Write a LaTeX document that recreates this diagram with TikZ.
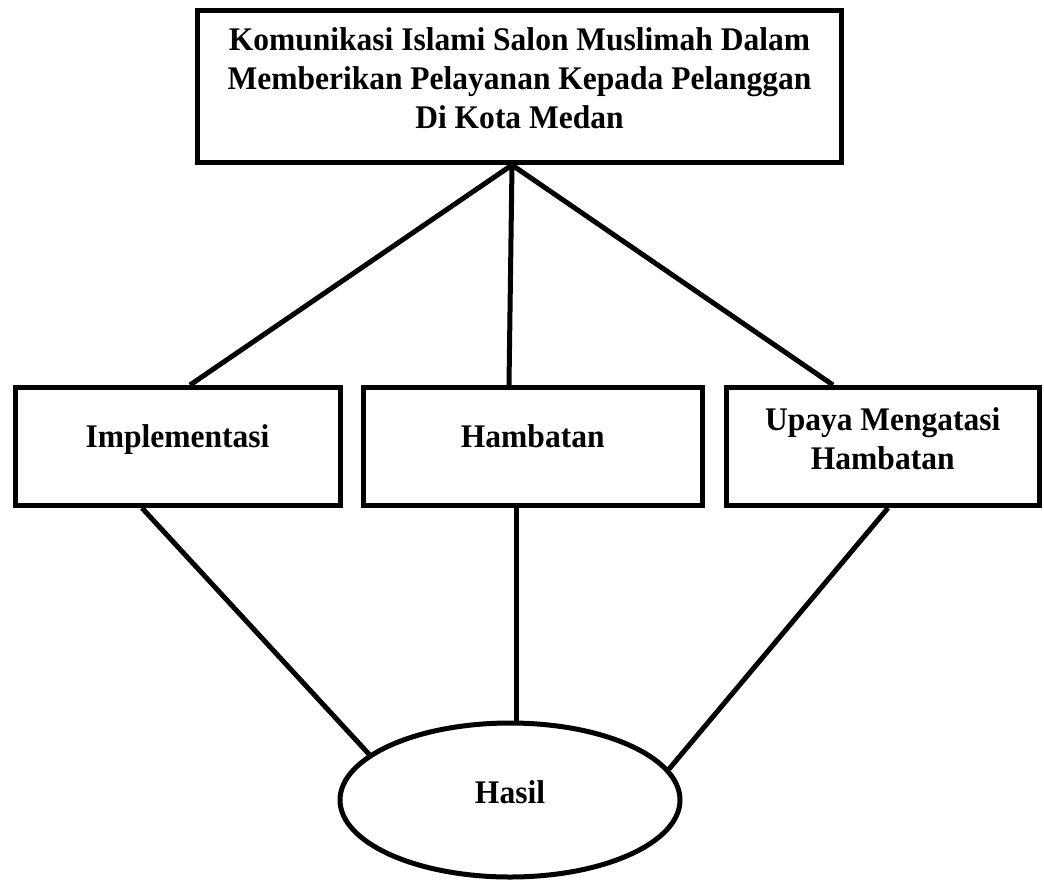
\documentclass[tikz,border=0pt]{standalone}
\usepackage{fontspec}
\setmainfont[FakeStretch=0.955]{Liberation Serif}
\usetikzlibrary{shapes.geometric}
\begin{document}
\begin{tikzpicture}[
   x=1pt, y=-1pt,
   box/.style={rectangle, draw, line width=5pt, align=center, inner sep=0pt,
               font=\fontsize{33}{39}\selectfont\bfseries},
   single/.style={text height=23pt, text depth=22pt},
   oval/.style={ellipse, draw, line width=5pt, inner sep=0pt,
                text height=23pt, text depth=17pt,
                font=\fontsize{33}{39}\selectfont\bfseries},
   link/.style={-, line width=5pt}
]
\useasboundingbox (0,0) rectangle (1044,879);

% Main topic
\node[box, minimum width=644, minimum height=152, text depth=16pt] (topic) at (519.5,86.5)
   {Komunikasi Islami Salon Muslimah Dalam\\Memberikan Pelayanan Kepada Pelanggan\\Di Kota Medan};

% Aspects
\node[box, single, minimum width=325, minimum height=118] (impl) at (177.5,446.5) {Implementasi};
\node[box, single, minimum width=339.5, minimum height=118] (hamb) at (532.75,446.5) {Hambatan};
\node[box, minimum width=312.5, minimum height=118, text depth=16pt] (upaya) at (882.75,446.5)
   {Upaya Mengatasi\\Hambatan};

% Result
\node[oval, minimum width=340, minimum height=154] (hasil) at (510,800) {Hasil};

% Links from the topic
\draw[link] ([xshift=-7.5pt]topic.south) -- ([xshift=12.5pt]impl.north);
\draw[link] ([xshift=-7.5pt]topic.south) -- ([xshift=-23.75pt]hamb.north);
\draw[link] ([xshift=-7.5pt]topic.south) -- ([xshift=-49.75pt]upaya.north);

% Links to the result
\draw[link] ([xshift=-35.5pt]impl.south) -- (hasil.162);
\draw[link] ([xshift=-16.75pt]hamb.south) -- ([xshift=-16.75pt]hamb.south |- hasil.north);
\draw[link] ([xshift=5.25pt]upaya.south) -- (hasil.11);

\end{tikzpicture}
\end{document}
